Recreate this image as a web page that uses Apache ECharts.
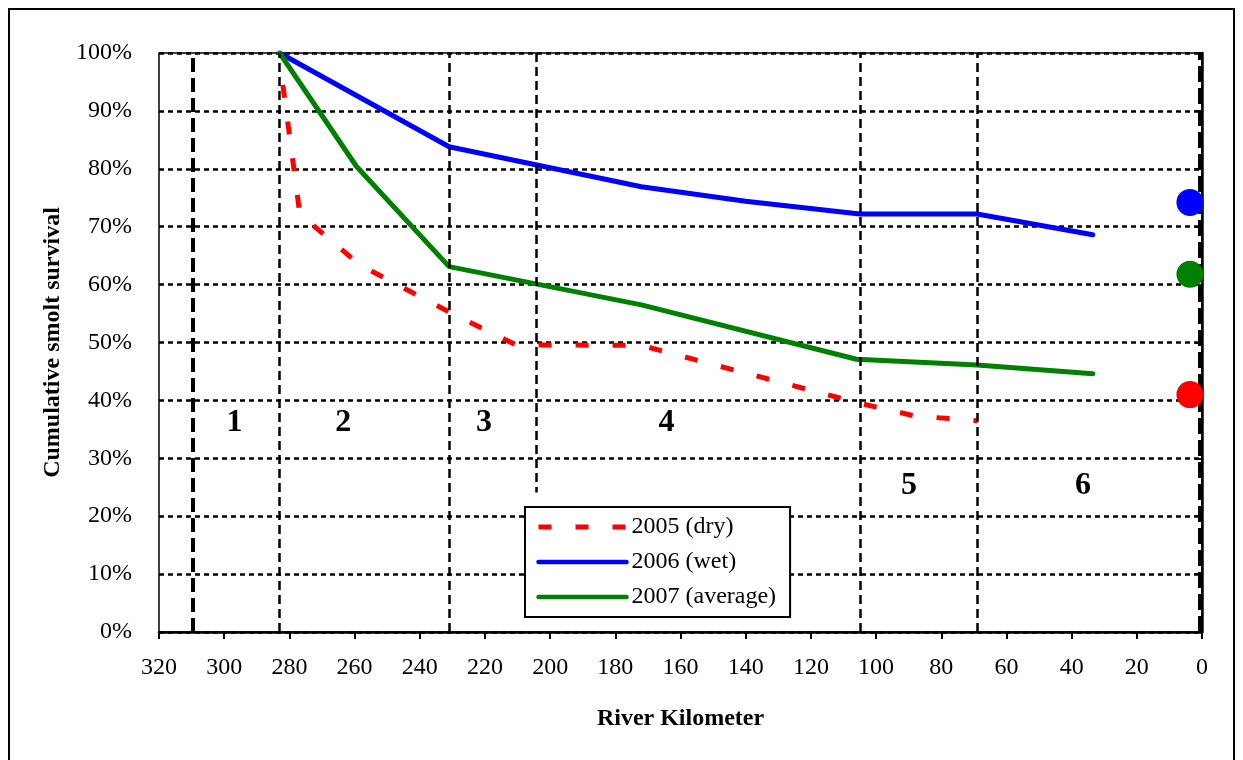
<!DOCTYPE html>
<html>
<head>
<meta charset="utf-8">
<title>Cumulative smolt survival</title>
<script src="https://cdn.jsdelivr.net/npm/echarts@6/dist/echarts.min.js"></script>
<style>
  html, body { margin: 0; padding: 0; background: #fff; }
  #chart { width: 1243px; height: 760px; }
</style>
</head>
<body>
<div id="chart"></div>
<script>
// river km (x) and cumulative survival in % (y)
var dryKm = [282, 276.8, 258.4, 230, 210.5, 172, 105, 88, 69]
var dryVal = [94.5, 72.2, 63.4, 55.0, 49.6, 49.5, 39.5, 37.3, 36.5]
var wetKm = [283, 231, 172, 140, 105, 69, 33.5]
var wetVal = [100, 83.8, 76.9, 74.4, 72.2, 72.2, 68.6]
var avgKm = [283, 259.4, 231, 172, 106, 69, 33.5]
var avgVal = [100, 80.4, 63.1, 56.5, 47.1, 46.1, 44.6]

// survival at the mouth (dots on the right)
var mouthKm = 3.7
var mouthDry = 41.0
var mouthWet = 74.2
var mouthAvg = 61.8

// reach boundaries and reach numbers
var boundaryKm = [283, 231, 105, 69]
var reachLabels = ['1', '2', '3', '4', '5', '6']
var reachKm = [296.8, 263.5, 220.3, 164.3, 89.9, 36.5]
var reachVal = [36.2, 36.2, 36.2, 36.2, 25.2, 25.2]

var xTicks = [320, 300, 280, 260, 240, 220, 200, 180, 160, 140, 120, 100, 80, 60, 40, 20, 0]

function pairs (xs, ys) {
  var out = []
  for (var i = 0; i < xs.length; i++) {
    out.push([xs[i], ys[i] / 100])
  }
  return out
}

var serif = 'Liberation Serif'
var thin = { color: '#000', width: 2.5, type: [9, 5] }
var redLine = { color: '#ff0000', width: 5, type: [13, 24], cap: 'butt' }
var blueLine = { color: '#0000ff', width: 5, type: 'solid', cap: 'round' }
var greenLine = { color: '#008000', width: 5, type: 'solid', cap: 'round' }

var markLines = []
for (var i = 0; i < boundaryKm.length; i++) {
  markLines.push({ xAxis: boundaryKm[i], lineStyle: thin })
}
markLines.push({ xAxis: 309.6, lineStyle: { color: '#000', width: 4, type: [14, 6] } })
markLines.push({ xAxis: 0.7, lineStyle: { color: '#000', width: 4, type: [16, 6] } })
markLines.push([{ coord: [204.3, 1] }, { coord: [204.3, 0.241], lineStyle: thin }])

var reachData = []
for (var j = 0; j < reachLabels.length; j++) {
  reachData.push({ value: [reachKm[j], reachVal[j] / 100], name: reachLabels[j] })
}

var chart = echarts.init(document.getElementById('chart'))
var option = {
  animation: false,
  backgroundColor: '#fff',
  graphic: [{
    type: 'rect',
    shape: { x: 9, y: 9, width: 1225, height: 800 },
    style: { fill: 'none', stroke: '#000', lineWidth: 2 },
    silent: true
  }],
  grid: {
    left: 159,
    right: 41,
    top: 53,
    bottom: 128,
    show: true,
    borderColor: '#000',
    borderWidth: 1.5
  },
  legend: {
    data: [
      { name: '2005 (dry)', lineStyle: { color: '#ff0000', width: 5, type: [13, 24], cap: 'butt' } },
      { name: '2006 (wet)', lineStyle: { color: '#0000ff', width: 4.5, type: 'solid', cap: 'round' } },
      { name: '2007 (average)', lineStyle: { color: '#008000', width: 4.5, type: 'solid', cap: 'round' } }
    ],
    orient: 'vertical',
    left: 525,
    top: 507,
    itemWidth: 88,
    itemHeight: 20,
    itemGap: 11,
    padding: [8, 14, 8, 11],
    backgroundColor: '#fff',
    borderColor: '#000',
    borderWidth: 2,
    borderRadius: 0,
    itemStyle: { opacity: 0 },
    textStyle: { fontFamily: serif, fontSize: 24, color: '#000', lineHeight: 24 }
  },
  xAxis: {
    type: 'value',
    min: 0,
    max: 320,
    interval: 20,
    inverse: true,
    name: 'River Kilometer',
    nameLocation: 'middle',
    nameGap: 75,
    nameTextStyle: { fontFamily: serif, fontSize: 24, fontWeight: 'bold', color: '#000' },
    axisLine: { lineStyle: { color: '#000', width: 2.5 } },
    axisTick: { show: true, length: 7, lineStyle: { color: '#000', width: 2 } },
    axisLabel: {
      fontFamily: serif,
      fontSize: 24,
      color: '#000',
      margin: 24,
      formatter: function (v) { return xTicks.indexOf(v) >= 0 ? String(v) : '' }
    },
    splitLine: { show: false }
  },
  yAxis: {
    type: 'value',
    min: 0,
    max: 1,
    interval: 0.1,
    name: 'Cumulative smolt survival',
    nameLocation: 'middle',
    nameGap: 94,
    nameTextStyle: { fontFamily: serif, fontSize: 24, fontWeight: 'bold', color: '#000' },
    axisLine: { show: true, lineStyle: { color: '#000', width: 2.5 } },
    axisTick: { show: true, length: 7, lineStyle: { color: '#000', width: 2 } },
    axisLabel: {
      fontFamily: serif,
      fontSize: 24,
      color: '#000',
      margin: 27,
      formatter: function (v) { return Math.round(v * 100) + '%' }
    },
    splitLine: { show: true, lineStyle: { color: '#000', width: 2.5, type: [5, 4] } }
  },
  series: [
    {
      name: 'boundaries',
      type: 'line',
      data: [],
      z: 1,
      silent: true,
      markLine: {
        silent: true,
        symbol: ['none', 'none'],
        label: { show: false },
        data: markLines
      }
    },
    {
      name: '2005 (dry)',
      type: 'line',
      data: pairs(dryKm, dryVal),
      symbol: 'none',
      z: 4,
      lineStyle: redLine,
      itemStyle: { color: '#ff0000' }
    },
    {
      name: '2006 (wet)',
      type: 'line',
      data: pairs(wetKm, wetVal),
      symbol: 'none',
      z: 4,
      lineStyle: blueLine,
      itemStyle: { color: '#0000ff' }
    },
    {
      name: '2007 (average)',
      type: 'line',
      data: pairs(avgKm, avgVal),
      symbol: 'none',
      z: 4,
      lineStyle: greenLine,
      itemStyle: { color: '#008000' }
    },
    {
      name: 'mouth',
      type: 'scatter',
      symbolSize: 27,
      z: 5,
      silent: true,
      data: [
        { value: [mouthKm, mouthWet / 100], itemStyle: { color: '#0000ff', opacity: 1 } },
        { value: [mouthKm, mouthAvg / 100], itemStyle: { color: '#008000', opacity: 1 } },
        { value: [mouthKm, mouthDry / 100], itemStyle: { color: '#ff0000', opacity: 1 } }
      ]
    },
    {
      name: 'reaches',
      type: 'scatter',
      symbolSize: 1,
      z: 5,
      silent: true,
      itemStyle: { color: 'rgba(0,0,0,0)', opacity: 1 },
      data: reachData,
      label: {
        show: true,
        position: 'inside',
        formatter: '{b}',
        fontFamily: serif,
        fontSize: 32,
        fontWeight: 'bold',
        color: '#000',
        opacity: 1,
        textBorderWidth: 0
      }
    }
  ]
}
chart.setOption(option)
</script>
</body>
</html>
